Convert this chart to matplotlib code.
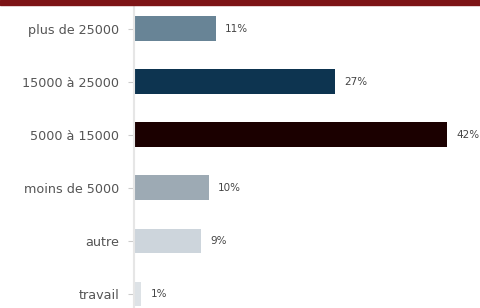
import matplotlib.pyplot as plt
from matplotlib.patches import Rectangle

categories = ["plus de 25000", "15000 à 25000", "5000 à 15000", "moins de 5000", "autre", "travail"]
values = [11, 27, 42, 10, 9, 1]
colors = ["#688496", "#0d3450", "#1b0000", "#9daab4", "#cdd5dc", "#dde2e6"]

fig = plt.figure(figsize=(4.8, 3.08), dpi=100)
fig.patches.append(Rectangle((0, 1 - 5 / 308), 1, 5 / 308, transform=fig.transFigure,
                             color="#7d1416", zorder=0))
ax = fig.add_axes([134 / 480, 0, 1 - 134 / 480, 1 - 5 / 308])

pos = list(range(len(categories)))
ax.barh(pos, values, height=0.47, color=colors)
for p, v in zip(pos, values):
    ax.text(v + 1.2, p, f"{v}%", va="center", ha="left", fontsize=7.5, color="#444444")

ax.set_xlim(0, 46.4)
ax.set_ylim(5.264, -0.45)
ax.set_yticks(pos)
ax.set_yticklabels(categories, fontsize=9.2, color="#555555")
ax.tick_params(axis="y", length=4, color="#cccccc", pad=6.5)
ax.set_xticks([])
for s in ["top", "right", "bottom"]:
    ax.spines[s].set_visible(False)
ax.spines["left"].set_color("#e6e6e6")
ax.spines["left"].set_linewidth(1.5)

fig.savefig("out.png", dpi=100)
